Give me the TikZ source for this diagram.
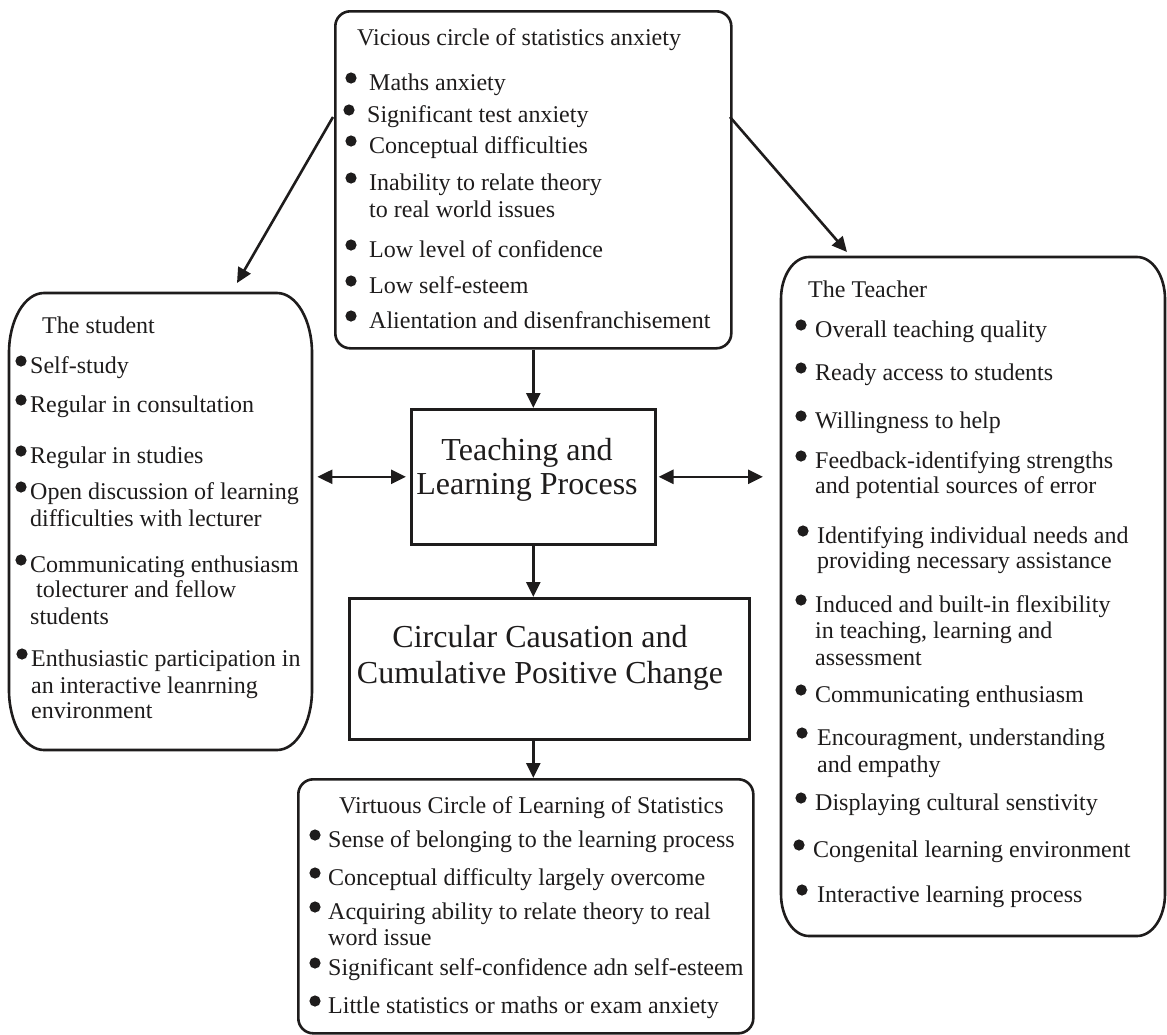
\documentclass[tikz,border=0pt]{standalone}
\usepackage{fontspec}
\setmainfont{Liberation Serif}
\usetikzlibrary{arrows.meta}
\definecolor{ink}{RGB}{30,28,28}
\tikzset{
  box/.style={draw=ink, line width=2.6pt},
  txt/.style={anchor=base west, inner sep=0pt, text=ink, font=\fontsize{24}{27}\selectfont},
  big/.style={anchor=base, inner sep=0pt, text=ink, font=\fontsize{32}{36}\selectfont},
  arr/.style={draw=ink, line width=2.6pt, -{Triangle[length=15pt,width=14pt]}},
  darr/.style={draw=ink, line width=2.6pt, {Triangle[length=15pt,width=14pt]}-{Triangle[length=15pt,width=14pt]}}
}
\newcommand\bitem[5]{\fill[ink] (#2,#3-12) circle (5.6pt); \node[txt] (#1) at (#4,#3) {#5};}
\newcommand\ebox[6]{%
  \draw[box, line join=round] (#1+#5,#2) -- (#3-#5,#2)
   .. controls (#3-0.448*#5,#2) and (#3,#2+0.448*#6) .. (#3,#2+#6) -- (#3,#4-#6)
   .. controls (#3,#4-0.448*#6) and (#3-0.448*#5,#4) .. (#3-#5,#4) -- (#1+#5,#4)
   .. controls (#1+0.448*#5,#4) and (#1,#4-0.448*#6) .. (#1,#4-#6) -- (#1,#2+#6)
   .. controls (#1,#2+0.448*#6) and (#1+0.448*#5,#2) .. (#1+#5,#2) -- cycle;}
\begin{document}
\begin{tikzpicture}[x=1pt,y=-1pt]
\useasboundingbox (0,0) rectangle (1167,1034);
\fill[white] (0,0) rectangle (1167,1034);

% boxes
\node[box, rounded corners=15pt, minimum width=396pt, minimum height=337pt, anchor=north west] (vic) at (334,10) {};
\node[box, minimum width=244pt, minimum height=135pt, anchor=north west] (tlp) at (410,408) {};
\node[box, minimum width=400pt, minimum height=141pt, anchor=north west] (circ) at (348,597) {};
\node[box, rounded corners=15pt, minimum width=455pt, minimum height=254pt, anchor=north west] (vir) at (297,778) {};
\node[inner sep=0pt, minimum width=303pt, minimum height=457pt, anchor=north west] (stu) at (9,293) {};
\ebox{9}{293}{312}{750}{35}{60}
\node[inner sep=0pt, minimum width=385pt, minimum height=679pt, anchor=north west] (tea) at (781,257) {};
\ebox{781}{257}{1165}{936}{28}{42}

% Vicious circle
\node[txt] (vt) at (357,45) {Vicious circle of statistics anxiety};
\bitem{v1}{351}{90}{369}{Maths anxiety}
\bitem{v2}{349}{122}{367}{Significant test anxiety}
\bitem{v3}{351}{153}{369}{Conceptual difficulties}
\bitem{v4}{351}{190}{369}{Inability to relate theory}
\node[txt] (v4b) at (369,217) {to real world issues};
\bitem{v5}{351}{257}{369}{Low level of confidence}
\bitem{v6}{351}{293}{369}{Low self-esteem}
\bitem{v7}{351}{328}{369}{Alientation and disenfranchisement}

% Student
\node[txt] (st) at (42,333) {The student};
\bitem{s1}{21}{373}{30}{Self-study}
\bitem{s2}{21}{412}{30}{Regular in consultation}
\bitem{s3}{21}{463}{30}{Regular in studies}
\bitem{s4}{21}{499}{30}{Open discussion of learning}
\node[txt] (s4b) at (30,526) {difficulties with lecturer};
\bitem{s5}{21}{572}{30}{Communicating enthusiasm}
\node[txt] (s5b) at (36,597) {tolecturer and fellow};
\node[txt] (s5c) at (30,624) {students};
\bitem{s6}{22}{666}{31}{Enthusiastic participation in}
\node[txt] (s6b) at (31,693) {an interactive leanrning};
\node[txt] (s6c) at (31,718) {environment};

% Teacher
\node[txt] (tt) at (808,297) {The Teacher};
\bitem{t1}{801}{337}{815}{Overall teaching quality}
\bitem{t2}{801}{380}{815}{Ready access to students}
\bitem{t3}{801}{428}{815}{Willingness to help}
\bitem{t4}{801}{468}{815}{Feedback-identifying strengths}
\node[txt] (t4b) at (815,493) {and potential sources of error};
\bitem{t5}{803}{543}{817}{Identifying individual needs and}
\node[txt] (t5b) at (817,568) {providing necessary assistance};
\bitem{t6}{801}{612}{815}{Induced and built-in flexibility}
\node[txt] (t6b) at (815,638) {in teaching, learning and};
\node[txt] (t6c) at (815,665) {assessment};
\bitem{t7}{801}{702}{815}{Communicating enthusiasm}
\bitem{t8}{802}{745}{817}{Encouragment, understanding}
\node[txt] (t8b) at (817,772) {and empathy};
\bitem{t9}{801}{810}{815}{Displaying cultural senstivity}
\bitem{t10}{799}{857}{813}{Congenital learning environment}
\bitem{t11}{802}{902}{817}{Interactive learning process}

% Central boxes text
\node[big] (tl1) at (527,460) {Teaching and};
\node[big] (tl2) at (527,494) {Learning Process};
\node[big] (cc1) at (540,647) {Circular Causation and};
\node[big] (cc2) at (540,683) {Cumulative Positive Change};

% Virtuous circle
\node[txt] (rt) at (339,813) {Virtuous Circle of Learning of Statistics};
\bitem{r1}{315}{847}{328}{Sense of belonging to the learning process}
\bitem{r2}{315}{885}{328}{Conceptual difficulty largely overcome}
\bitem{r3}{315}{919}{328}{Acquiring ability to relate theory to real}
\node[txt] (r3b) at (328,945) {word issue};
\bitem{r4}{315}{975}{328}{Significant self-confidence adn self-esteem}
\bitem{r5}{315}{1013}{328}{Little statistics or maths or exam anxiety}

% connectors
\coordinate (al0) at (333,117);
\coordinate (al1) at (237,283);
\coordinate (ar0) at (730,117);
\coordinate (ar1) at (847,252);
\draw[arr] (al0) -- (al1);
\draw[arr] (ar0) -- (ar1);
\draw[arr] (vic.south) -- (tlp.north);
\draw[arr] (tlp.south) -- (tlp.south |- circ.north);
\draw[arr] (tlp.south |- circ.south) -- (tlp.south |- vir.north);
\draw[darr, shorten <=5pt, shorten >=4pt] (stu.east |- tlp.west) -- (tlp.west);
\draw[darr, shorten <=2pt, shorten >=18pt] (tlp.east) -- (tlp.east -| tea.west);
\end{tikzpicture}
\end{document}
